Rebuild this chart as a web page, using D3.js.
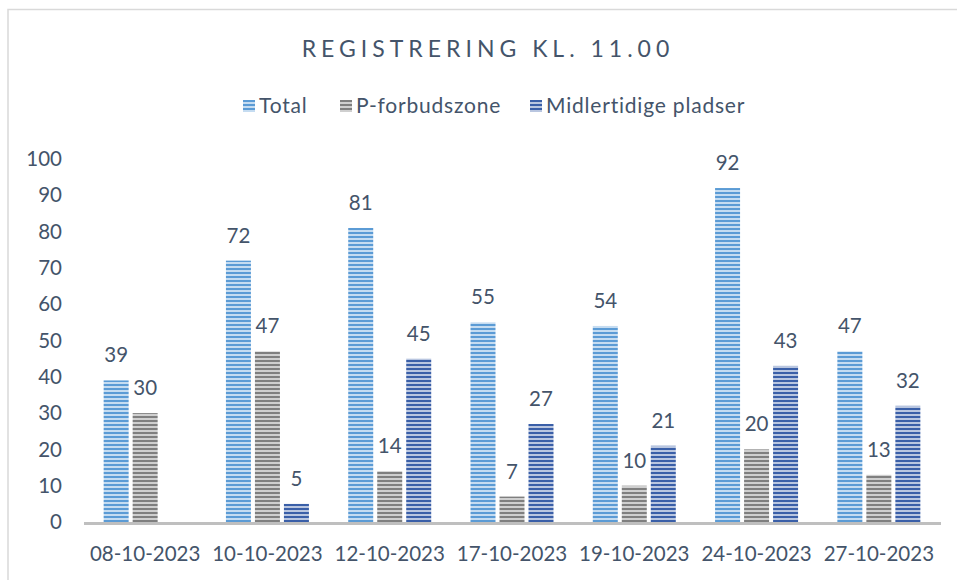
<!DOCTYPE html>
<html>
<head>
<meta charset="utf-8">
<script src="https://d3js.org/d3.v7.min.js"></script>
<style>
  body { margin: 0; background: #fff; }
  svg text { font-family: Lato, "Open Sans", sans-serif; fill: #44546a; }
</style>
</head>
<body>
<svg id="chart" width="957" height="580"></svg>
<script>
// data
var dates = ["08-10-2023", "10-10-2023", "12-10-2023", "17-10-2023", "19-10-2023", "24-10-2023", "27-10-2023"];
var total = [39, 72, 81, 55, 54, 92, 47];
var pForbud = [30, 47, 14, 7, 10, 20, 13];
var midlertidige = [null, 5, 45, 27, 21, 43, 32];
var seriesNames = ["Total", "P-forbudszone", "Midlertidige pladser"];
var yTicks = [0, 10, 20, 30, 40, 50, 60, 70, 80, 90, 100];

var svg = d3.select("#chart");
var defs = svg.append("defs");

// striped fills, like the excel pattern fill
var fills = [
  { id: "pTotal", dark: "#5b9bd5", light: "#c5dcf1" },
  { id: "pForbud", dark: "#7f7f7f", light: "#cfcfcf" },
  { id: "pMid", dark: "#3a5fa8", light: "#b9c6e0" }
];
fills.forEach(function(f) {
  var p = defs.append("pattern")
    .attr("id", f.id)
    .attr("patternUnits", "userSpaceOnUse")
    .attr("width", 8).attr("height", 4);
  p.append("rect").attr("width", 8).attr("height", 4).attr("fill", f.light);
  p.append("rect").attr("width", 8).attr("height", 2).attr("fill", f.dark);
});

// chart frame
svg.append("path")
  .attr("d", "M8,580 L8,9.5 L957,9.5")
  .attr("fill", "none")
  .attr("stroke", "#d9d9d9")
  .attr("stroke-width", 1.5);

var margin = { left: 84, right: 17, top: 159, bottom: 58 };
var width = 957 - margin.left - margin.right;
var plotBottom = 522;
var fs = "20.5px";

var x = d3.scaleBand().domain(dates).range([margin.left, margin.left + width]);
var y = d3.scaleLinear().domain([0, 100]).range([plotBottom, margin.top]);

var barW = 25, gap = 4;
var x1 = d3.scaleBand().domain([0, 1, 2]).range([0, 3 * barW + 2 * gap]).paddingInner(gap / (barW + gap));

// title
svg.append("text")
  .attr("x", 488).attr("y", 57)
  .attr("text-anchor", "middle")
  .style("font-size", "23px")
  .style("letter-spacing", "5px")
  .text("REGISTRERING KL. 11.00");

// legend
var legendX = [243, 340, 530];
var legend = svg.append("g").selectAll("g")
  .data(seriesNames)
  .enter().append("g")
  .attr("transform", function(d, i) { return "translate(" + legendX[i] + ",100)"; });
legend.append("rect")
  .attr("width", 12).attr("height", 12)
  .attr("fill", function(d, i) { return "url(#" + fills[i].id + ")"; });
legend.append("text")
  .attr("x", 16).attr("y", 13)
  .style("font-size", "21px")
  .style("letter-spacing", "0.8px")
  .text(function(d) { return d; });

// y axis labels
svg.append("g").selectAll("text")
  .data(yTicks)
  .enter().append("text")
  .attr("x", 62)
  .attr("y", function(d) { return y(d); })
  .attr("dy", "0.35em")
  .attr("text-anchor", "end")
  .style("font-size", fs)
  .text(function(d) { return d; });

// bars
var seriesData = [total, pForbud, midlertidige];
var groups = svg.append("g").selectAll("g")
  .data(dates)
  .enter().append("g")
  .attr("transform", function(d) {
    return "translate(" + (x(d) + x.bandwidth() / 2 - x1.range()[1] / 2) + ",0)";
  });

groups.each(function(d, i) {
  var g = d3.select(this);
  var vals = seriesData.map(function(s) { return s[i]; });
  vals.forEach(function(v, k) {
    if (v == null) return;
    g.append("rect")
      .attr("x", x1(k))
      .attr("y", y(v))
      .attr("width", x1.bandwidth())
      .attr("height", plotBottom - y(v))
      .attr("fill", "url(#" + fills[k].id + ")");
    g.append("text")
      .attr("x", x1(k) + x1.bandwidth() / 2)
      .attr("y", y(v) - 18)
      .attr("text-anchor", "middle")
      .style("font-size", fs)
      .text(v);
  });
});

// x axis line
svg.append("line")
  .attr("x1", margin.left).attr("x2", margin.left + width + 1)
  .attr("y1", plotBottom + 1.5).attr("y2", plotBottom + 1.5)
  .attr("stroke", "#bfbfbf").attr("stroke-width", 3);

// x labels
svg.append("g").selectAll("text")
  .data(dates)
  .enter().append("text")
  .attr("x", function(d) { return x(d) + x.bandwidth() / 2; })
  .attr("y", 561)
  .attr("text-anchor", "middle")
  .style("font-size", fs)
  .text(function(d) { return d; });
</script>
</body>
</html>
